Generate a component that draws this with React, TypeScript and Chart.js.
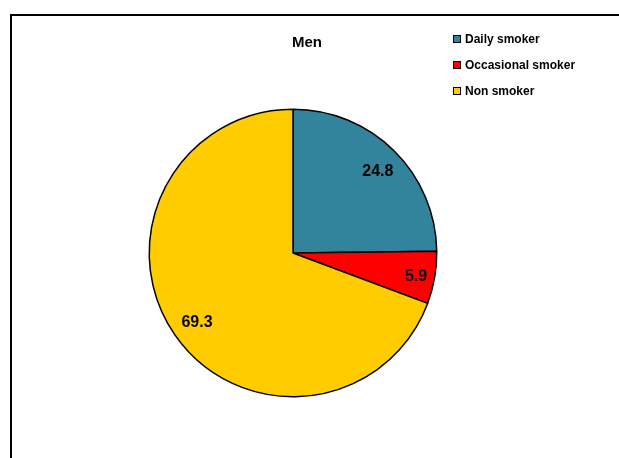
import React, { useEffect, useRef } from "react";
import { Chart, registerables } from "chart.js";

Chart.register(...registerables);

const categories = ["Daily smoker", "Occasional smoker", "Non smoker"];
const values = [24.8, 5.9, 69.3];
const valueLabels = ["24.8", "5.9", "69.3"];
const colors = ["#31849B", "#FF0000", "#FFCC00"];
const titleText = "Men";
const labelRadiusRatio = [0.82, 0.855, 0.83];

const FONT = "Arial, 'Liberation Sans', sans-serif";

const decorPlugin = {
  id: "decor",
  beforeDraw(chart: any) {
    const ctx = chart.ctx;
    ctx.save();
    ctx.fillStyle = "#ffffff";
    ctx.fillRect(0, 0, chart.width, chart.height);
    ctx.strokeStyle = "#000000";
    ctx.lineWidth = 2;
    ctx.beginPath();
    ctx.moveTo(11, chart.height + 2);
    ctx.lineTo(11, 15);
    ctx.lineTo(chart.width + 2, 15);
    ctx.stroke();
    ctx.restore();
  },
  afterDatasetsDraw(chart: any) {
    const ctx = chart.ctx;
    const meta = chart.getDatasetMeta(0);
    ctx.save();
    ctx.fillStyle = "#000000";
    ctx.font = `bold 16px ${FONT}`;
    ctx.textAlign = "center";
    ctx.textBaseline = "middle";
    meta.data.forEach((arc: any, i: number) => {
      const p = arc.getProps(["x", "y", "startAngle", "endAngle", "outerRadius"], true);
      const mid = (p.startAngle + p.endAngle) / 2;
      const r = p.outerRadius * labelRadiusRatio[i];
      ctx.fillText(valueLabels[i], p.x + Math.cos(mid) * r + 2, p.y + Math.sin(mid) * r + 2);
    });

    // title
    ctx.font = `bold 15px ${FONT}`;
    ctx.fillText(titleText, 307, 43);

    // legend
    ctx.textAlign = "left";
    ctx.font = `bold 12px ${FONT}`;
    const rows = [40, 66, 92];
    categories.forEach((c, i) => {
      const y = rows[i];
      ctx.fillStyle = colors[i];
      ctx.fillRect(453.5, y - 4.5, 7, 7);
      ctx.strokeStyle = "#000000";
      ctx.lineWidth = 1;
      ctx.strokeRect(453.5, y - 4.5, 7, 7);
      ctx.fillStyle = "#000000";
      ctx.fillText(c, 465, y);
    });
    ctx.restore();
  },
};

export default function App() {
  const ref = useRef<HTMLCanvasElement | null>(null);
  useEffect(() => {
    if (!ref.current) return;
    const chart = new Chart(ref.current, {
      type: "pie",
      data: {
        labels: categories,
        datasets: [
          {
            data: values,
            backgroundColor: colors,
            borderColor: "#000000",
            borderWidth: 1.5,
          },
        ],
      },
      options: {
        responsive: false,
        animation: false,
        layout: {
          padding: { left: 148.5, right: 181.5, top: 108.5, bottom: 60.5 },
        },
        plugins: {
          legend: { display: false },
          title: { display: false },
          tooltip: { enabled: false },
        },
      },
      plugins: [decorPlugin],
    });
    return () => chart.destroy();
  }, []);
  return (
    <div style={{ position: "fixed", left: 0, top: 0, width: 619, height: 458, background: "#fff" }}>
      <canvas ref={ref} width={619} height={458} style={{ display: "block" }} />
    </div>
  );
}
